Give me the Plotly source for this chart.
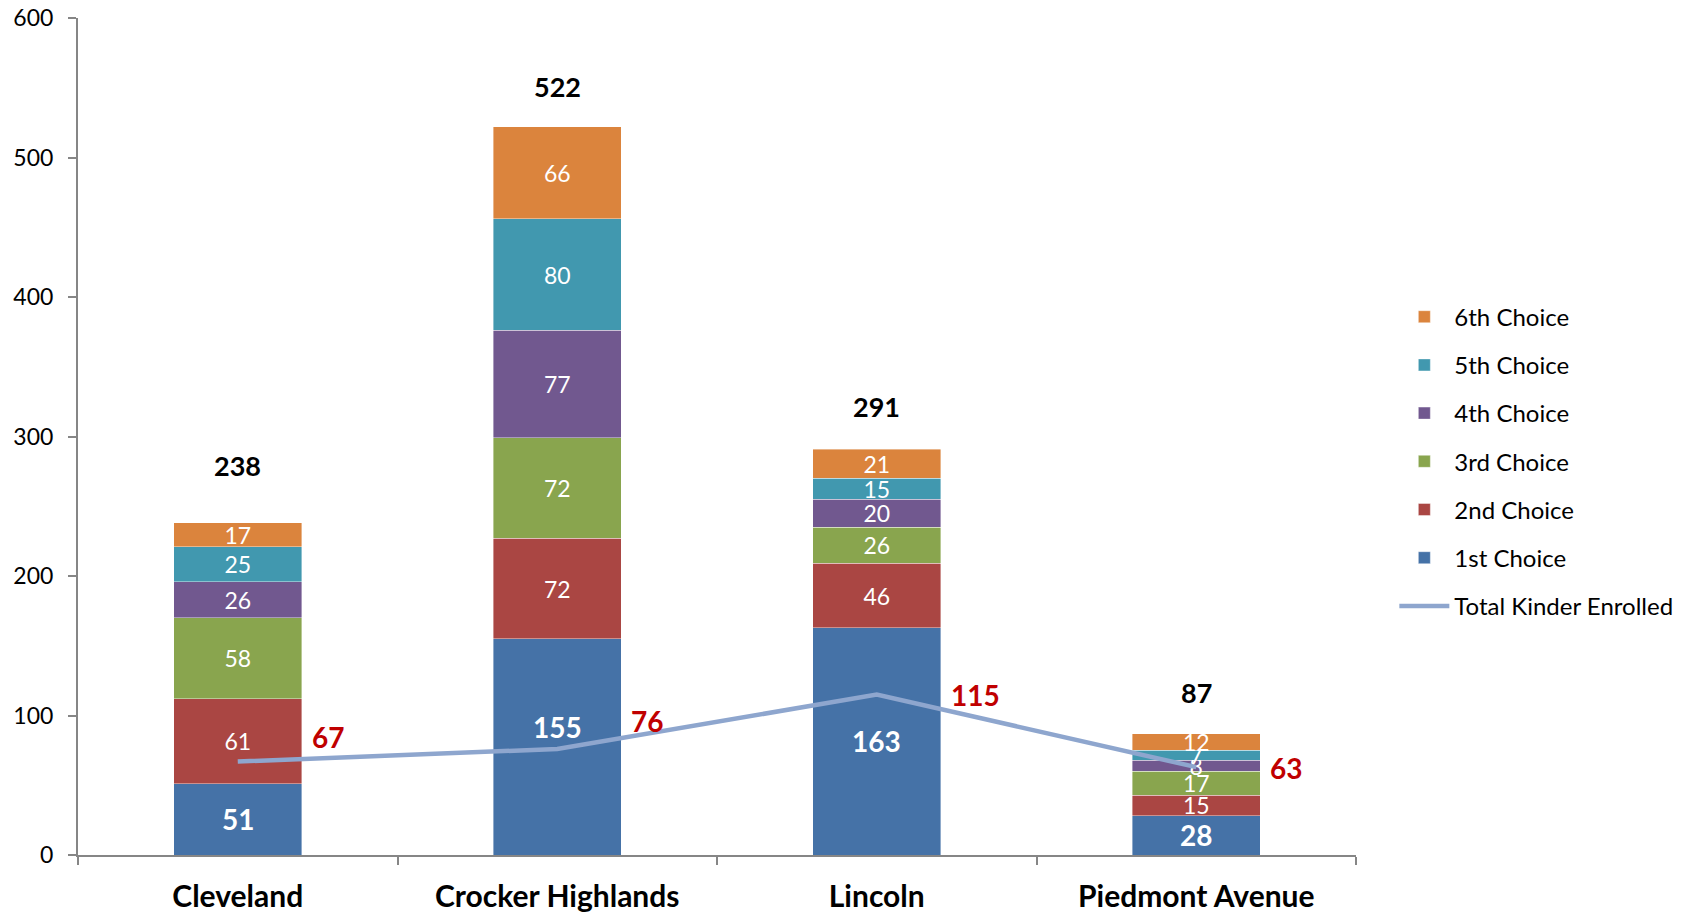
import plotly.graph_objects as go

# ── Data ─────────────────────────────────────────────────────────────────────
schools = ['Cleveland', 'Crocker Highlands', 'Lincoln', 'Piedmont Avenue']
choice_1 = [51, 155, 163, 28]
choice_2 = [61, 72, 46, 15]
choice_3 = [58, 72, 26, 17]
choice_4 = [26, 77, 20, 8]
choice_5 = [25, 80, 15, 7]
choice_6 = [17, 66, 21, 12]
kinder_enrolled = [67, 76, 115, 63]

series = [
    ('1st Choice', choice_1, '#4572A7'),
    ('2nd Choice', choice_2, '#AA4643'),
    ('3rd Choice', choice_3, '#89A54E'),
    ('4th Choice', choice_4, '#71588F'),
    ('5th Choice', choice_5, '#4198AF'),
    ('6th Choice', choice_6, '#DB843D'),
]
totals = [sum(v) for v in zip(*[s[1] for s in series])]

FONT = 'Lato'
AXIS_GREY = '#868686'

fig = go.Figure()

for i, (name, vals, color) in enumerate(series):
    first = i == 0
    fig.add_trace(go.Bar(
        x=schools, y=vals,
        name=name,
        marker=dict(color=color, line=dict(color='rgba(255,255,255,0.5)', width=0.8)),
        # 1st choice labels are drawn as annotations (above the line)
        text=None if first else [str(v) for v in vals],
        textposition='inside',
        insidetextanchor='middle',
        constraintext='none',
        textangle=0,
        insidetextfont=dict(family=FONT, color='white', size=23),
        legendgroup=name,
        legendrank=6 - i,
    ))

fig.add_trace(go.Scatter(
    x=schools, y=kinder_enrolled,
    mode='lines',
    name='Total Kinder Enrolled',
    line=dict(color='#8EA6CE', width=4.5),
    legendgroup='line',
    legendrank=7,
))

# 1st choice labels, centred in their segment
first_shift = [0, 20, 0, 0]
for s, v, dy in zip(schools, choice_1, first_shift):
    fig.add_annotation(
        x=s, y=v / 2, text=f'<b>{v}</b>', showarrow=False,
        yshift=dy, xanchor='center', yanchor='middle',
        font=dict(family=FONT, size=28, color='white'),
    )

# totals above the stacks
total_shift = [57, 40, 43, 41]
for s, t, dy in zip(schools, totals, total_shift):
    fig.add_annotation(
        x=s, y=t, text=f'<b>{t}</b>', showarrow=False,
        yshift=dy, xanchor='center', yanchor='middle',
        font=dict(family=FONT, size=27, color='black'),
    )

# enrolment labels to the right of the line points
label_shift = [25, 28, 0, -1]
for s, k, dy in zip(schools, kinder_enrolled, label_shift):
    fig.add_annotation(
        x=s, y=k, text=f'<b>{k}</b>', showarrow=False,
        xshift=72, yshift=dy, xanchor='left', yanchor='middle',
        font=dict(family=FONT, size=28, color='#C00000'),
    )

fig.update_layout(
    width=1694, height=912,
    barmode='stack',
    bargap=0.6,
    paper_bgcolor='white',
    plot_bgcolor='white',
    font=dict(family=FONT, color='black', size=23),
    margin=dict(l=70, r=346, t=10, b=65),
    showlegend=True,
    legend=dict(
        traceorder='grouped',
        tracegroupgap=14,
        x=1.03, xanchor='left',
        y=0.47, yanchor='middle',
        font=dict(family=FONT, size=24, color='black'),
        itemwidth=50,
        bgcolor='rgba(0,0,0,0)',
    ),
    xaxis=dict(
        automargin=False,
        showline=True, linecolor=AXIS_GREY, linewidth=2,
        ticks='outside', tickson='boundaries', ticklen=8,
        tickcolor=AXIS_GREY, tickwidth=2,
        tickfont=dict(family=FONT, size=30, color='black', weight='bold'),
        ticklabelstandoff=14,
        showgrid=False, zeroline=False,
    ),
    yaxis=dict(
        automargin=False,
        range=[0, 600], dtick=100,
        showline=True, linecolor=AXIS_GREY, linewidth=2,
        ticks='outside', ticklen=8, tickcolor=AXIS_GREY, tickwidth=2,
        tickfont=dict(family=FONT, size=23, color='black'),
        ticklabelstandoff=10,
        ticklabeloverflow='allow',
        showgrid=False, zeroline=False,
    ),
)

fig.write_html('out.html')
